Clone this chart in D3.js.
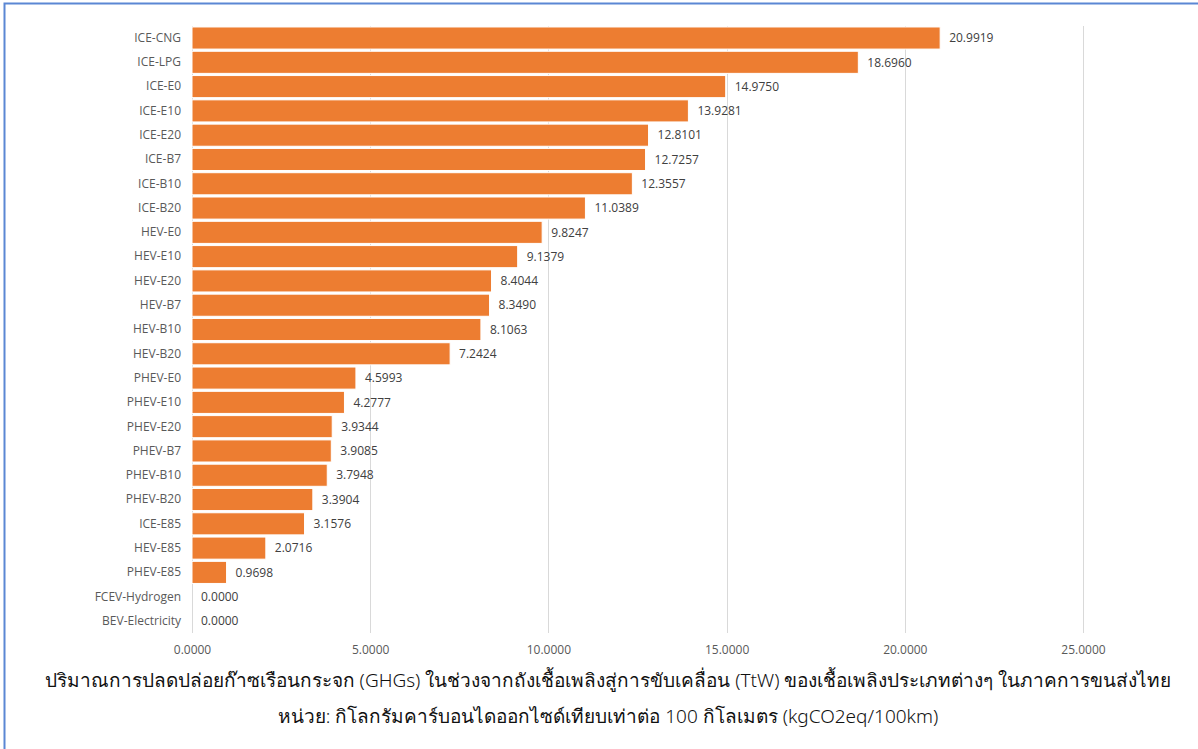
<!DOCTYPE html>
<html>
<head>
<meta charset="utf-8">
<script src="https://cdn.jsdelivr.net/npm/d3@7"></script>
<style>
  body { margin: 0; background: #fff; }
  svg { display: block; font-family: "Open Sans", "Noto Sans", sans-serif; }
</style>
</head>
<body>
<div id="chart"></div>
<script>
var categories = ['ICE-CNG', 'ICE-LPG', 'ICE-E0', 'ICE-E10', 'ICE-E20', 'ICE-B7', 'ICE-B10', 'ICE-B20',
  'HEV-E0', 'HEV-E10', 'HEV-E20', 'HEV-B7', 'HEV-B10', 'HEV-B20',
  'PHEV-E0', 'PHEV-E10', 'PHEV-E20', 'PHEV-B7', 'PHEV-B10', 'PHEV-B20',
  'ICE-E85', 'HEV-E85', 'PHEV-E85', 'FCEV-Hydrogen', 'BEV-Electricity'];
var values = [20.9919, 18.6960, 14.9750, 13.9281, 12.8101, 12.7257, 12.3557, 11.0389,
  9.8247, 9.1379, 8.4044, 8.3490, 8.1063, 7.2424,
  4.5993, 4.2777, 3.9344, 3.9085, 3.7948, 3.3904,
  3.1576, 2.0716, 0.9698, 0.0000, 0.0000];
var ticks = [0, 5, 10, 15, 20, 25];
var titleLines = [
  'ปริมาณการปลดปล่อยก๊าซเรือนกระจก (GHGs) ในช่วงจากถังเชื้อเพลิงสู่การขับเคลื่อน (TtW) ของเชื้อเพลิงประเภทต่างๆ ในภาคการขนส่งไทย',
  'หน่วย: กิโลกรัมคาร์บอนไดออกไซด์เทียบเท่าต่อ 100 กิโลเมตร (kgCO2eq/100km)'
];

var W = 1198, H = 749;
var margin = { top: 26, left: 192 };
var plotW = 1083 - 192;
var plotH = 633 - 26;

var svg = d3.select('#chart').append('svg')
  .attr('width', W)
  .attr('height', H);

// outer frame, runs off the right and bottom edges
svg.append('rect')
  .attr('x', 4.5).attr('y', 3.5)
  .attr('width', W + 10).attr('height', H + 10)
  .attr('fill', 'none')
  .attr('stroke', '#5b87d4')
  .attr('stroke-width', 2);

var g = svg.append('g')
  .attr('transform', `translate(${margin.left}, ${margin.top})`);

var x = d3.scaleLinear().domain([0, 25]).range([0, plotW]);
var y = d3.scaleBand().domain(categories).range([0, plotH]).paddingInner(0.09).paddingOuter(0.04);

// vertical gridlines
g.selectAll('.grid')
  .data(ticks)
  .enter().append('line')
    .attr('class', 'grid')
    .attr('x1', d => Math.round(x(d)) + 0.5)
    .attr('x2', d => Math.round(x(d)) + 0.5)
    .attr('y1', 0)
    .attr('y2', plotH)
    .attr('stroke', '#d9d9d9')
    .attr('stroke-width', 1);

// x axis labels
var xAxis = d3.axisBottom(x).tickValues(ticks).tickSize(0).tickPadding(0).tickFormat(d3.format('.4f'));
g.append('g')
  .attr('transform', `translate(0, ${plotH + 12})`)
  .call(xAxis)
  .call(a => a.select('.domain').remove())
  .selectAll('text')
    .attr('dy', '0.71em')
    .attr('fill', '#595959')
    .style('font-size', '12px')
    .style('font-family', '"Open Sans", sans-serif');

// category labels
var yAxis = d3.axisLeft(y).tickSize(0).tickPadding(11);
g.append('g')
  .call(yAxis)
  .call(a => a.select('.domain').remove())
  .selectAll('text')
    .attr('fill', '#595959')
    .style('font-size', '12px')
    .style('font-family', '"Open Sans", sans-serif');

// bars
g.selectAll('.bar')
  .data(values)
  .enter().append('rect')
    .attr('class', 'bar')
    .attr('x', 0)
    .attr('y', (d, i) => y(categories[i]))
    .attr('width', d => x(d))
    .attr('height', y.bandwidth())
    .attr('fill', '#ed7d31')
    .attr('stroke', d => d > 0 ? '#fff' : 'none')
    .attr('stroke-width', 1);

// value labels
g.selectAll('.val')
  .data(values)
  .enter().append('text')
    .attr('class', 'val')
    .attr('x', d => x(d) + 9)
    .attr('y', (d, i) => y(categories[i]) + y.bandwidth() / 2)
    .attr('dy', '0.35em')
    .attr('fill', '#404040')
    .style('font-size', '12px')
    .text(d => d3.format('.4f')(d));

// title under the chart
svg.selectAll('.title')
  .data(titleLines)
  .enter().append('text')
    .attr('class', 'title')
    .attr('x', 608)
    .attr('y', (d, i) => 687 + i * 36)
    .attr('text-anchor', 'middle')
    .attr('fill', '#111')
    .style('font-size', '19px')
    .style('font-weight', 300)
    .style('font-family', '"Noto Sans", "DejaVu Sans", sans-serif')
    .text(d => d);
</script>
</body>
</html>
